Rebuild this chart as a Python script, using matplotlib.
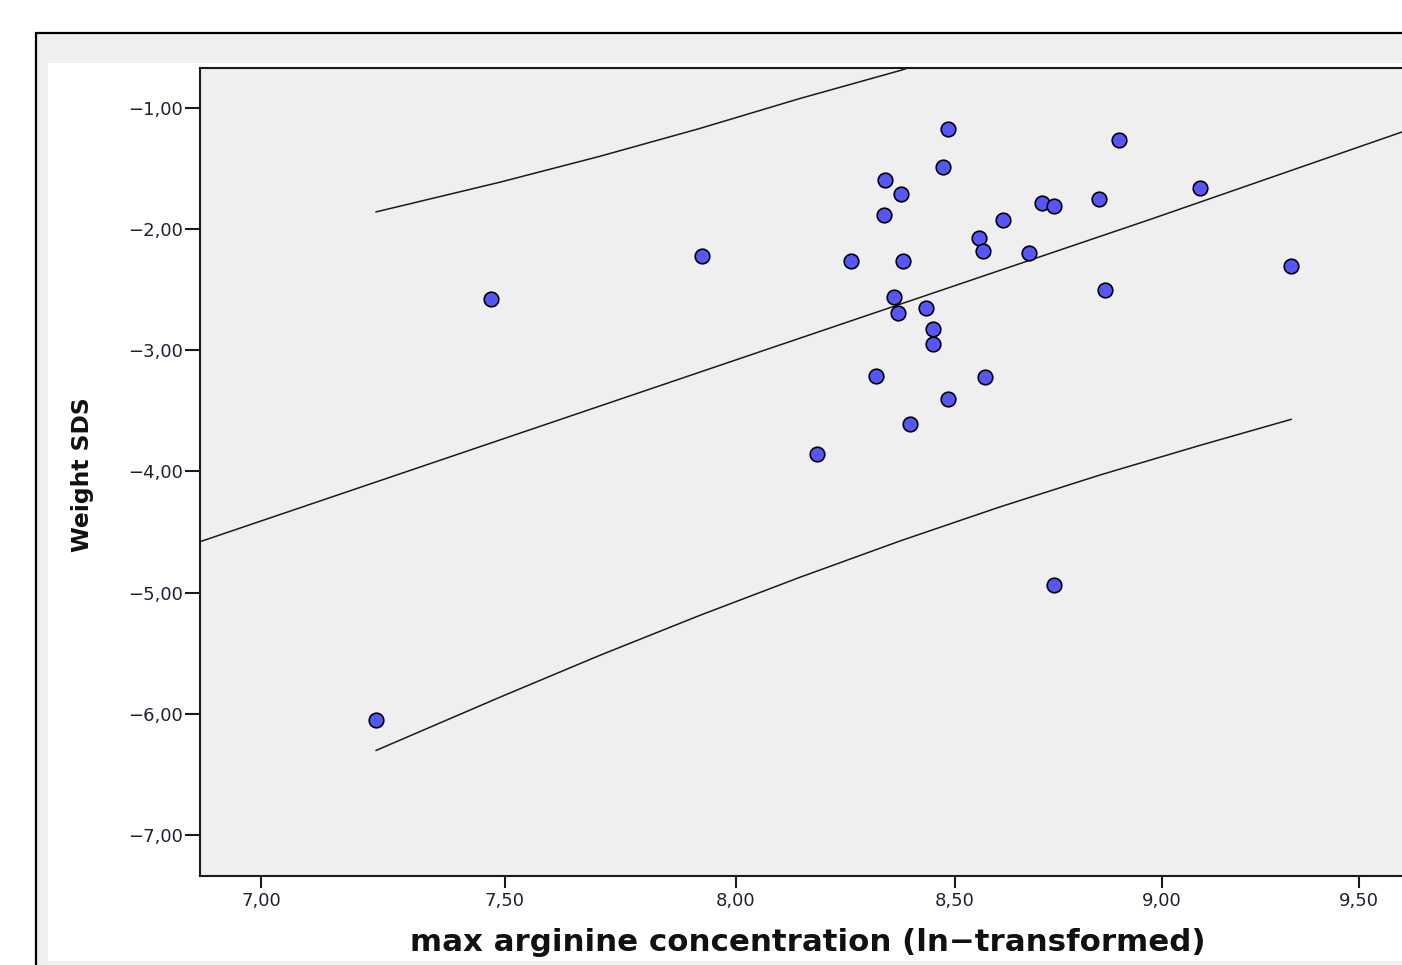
import numpy as np
import matplotlib
matplotlib.use("Agg")
import matplotlib.pyplot as plt
from matplotlib.patches import Rectangle
from matplotlib.ticker import FixedLocator, FuncFormatter

# scatter data
arginine_ln = [7.233, 7.471, 7.926, 8.183, 8.260, 8.318, 8.338, 8.336, 8.375, 8.380,
               8.359, 8.368, 8.396, 8.433, 8.450, 8.450, 8.473, 8.485, 8.485, 8.558,
               8.567, 8.572, 8.614, 8.676, 8.708, 8.736, 8.736, 8.845, 8.860, 8.894,
               9.094, 9.325]
weight_sds = [-6.05, -2.58, -2.22, -3.86, -2.26, -3.21, -1.59, -1.88, -1.71, -2.26,
              -2.56, -2.69, -3.61, -2.65, -2.82, -2.95, -1.49, -1.17, -3.40, -2.07,
              -2.18, -3.22, -1.92, -2.20, -1.78, -1.81, -4.94, -1.75, -2.50, -1.26,
              -1.66, -2.30]

# regression line and prediction interval curves
fit_x = [6.879, 8.144, 8.970, 9.648]
fit_y = [-4.58, -2.90, -1.92, -1.16]
upper_x = [7.233, 7.490, 7.703, 7.921, 8.144, 8.373, 8.489]
upper_y = [-1.857, -1.612, -1.398, -1.168, -0.921, -0.690, -0.560]
lower_x = [7.233, 7.490, 7.703, 7.921, 8.144, 8.373, 8.607, 8.848, 9.094, 9.325]
lower_y = [-6.303, -5.864, -5.518, -5.188, -4.874, -4.574, -4.293, -4.029, -3.785, -3.570]

x_ticks = [7.0, 7.5, 8.0, 8.5, 9.0, 9.5]
y_ticks = [-1.0, -2.0, -3.0, -4.0, -5.0, -6.0, -7.0]

W, H = 1402, 965


def px(x, y):
    # pixel position -> figure fraction
    return x / W, 1 - y / H


def fwd(x):
    return -np.exp(-0.107 * np.asarray(x, dtype=float))


def inv(y):
    y = np.asarray(y, dtype=float)
    return -np.log(np.clip(-y, 1e-12, None)) / 0.107


def comma_fmt(v, pos):
    return f"{v:.2f}".replace(".", ",").replace("-", "\u2212")


fig = plt.figure(figsize=(W / 100, H / 100), dpi=100)
fig.patch.set_facecolor("white")

# outer SPSS-style frame and white chart panel
x0, y0 = px(36, 980)
x1, y1 = px(1425, 33)
fig.add_artist(Rectangle((x0, y0), x1 - x0, y1 - y0, transform=fig.transFigure,
                         facecolor="#efefef", edgecolor="black", linewidth=1.6, zorder=-3))
x0, y0 = px(48, 961)
x1, y1 = px(1425, 63)
fig.add_artist(Rectangle((x0, y0), x1 - x0, y1 - y0, transform=fig.transFigure,
                         facecolor="white", edgecolor="none", zorder=-2))

left, right, top, bottom = 200, 1415, 68, 876
ax = fig.add_axes([left / W, 1 - bottom / H, (right - left) / W, (bottom - top) / H])
ax.set_facecolor("#efefef")

ax.set_xscale("function", functions=(fwd, inv))
ax.set_xlim(6.879, 9.648)
ax.set_ylim(-7.34, -0.669)

ax.plot(fit_x, fit_y, color="#1a1a1a", linewidth=1.1, zorder=2)
ax.plot(upper_x, upper_y, color="#1a1a1a", linewidth=1.1, zorder=2)
ax.plot(lower_x, lower_y, color="#1a1a1a", linewidth=1.1, zorder=2)
ax.scatter(arginine_ln, weight_sds, s=110, facecolor="#5656ff", edgecolor="black",
           linewidth=1.2, zorder=3)

ax.xaxis.set_major_locator(FixedLocator(x_ticks))
ax.yaxis.set_major_locator(FixedLocator(y_ticks))
ax.xaxis.set_major_formatter(FuncFormatter(comma_fmt))
ax.yaxis.set_major_formatter(FuncFormatter(comma_fmt))
ax.xaxis.set_minor_locator(FixedLocator([]))

for s in ["left", "bottom", "top", "right"]:
    ax.spines[s].set_linewidth(1.5)
    ax.spines[s].set_color("#1a1a1a")

ax.tick_params(axis="y", direction="out", length=10.5, width=1.5, pad=2,
               labelsize=13, colors="#1a1a1a", labelcolor="#202035")
ax.tick_params(axis="x", direction="out", length=8.5, width=1.5, pad=3,
               labelsize=13, colors="#1a1a1a", labelcolor="#202035")

ax.set_xlabel("max arginine concentration (ln\u2212transformed)", fontsize=22.2,
              fontweight="bold", color="#111111", va="center")
ax.xaxis.set_label_coords(0.5, -0.0818)
ax.set_ylabel("Weight SDS", fontsize=16.8, fontweight="bold", color="#111111", va="center")
ax.yaxis.set_label_coords(-0.0971, 0.497)

fig.savefig("out.png", dpi=100)
